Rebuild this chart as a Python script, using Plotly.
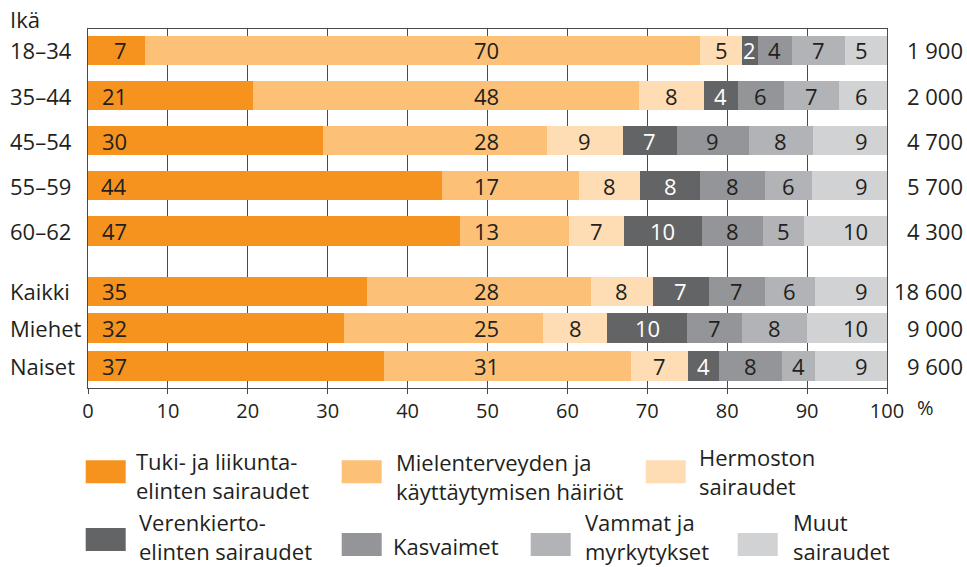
import plotly.graph_objects as go

# ---------------- data ----------------
categories = ["18–34", "35–44", "45–54", "55–59", "60–62", "Kaikki", "Miehet", "Naiset"]
totals = [1900, 2000, 4700, 5700, 4300, 18600, 9000, 9600]

series_names = [
    "Tuki- ja liikunta-<br>elinten sairaudet",
    "Mielenterveyden ja<br>käyttäytymisen häiriöt",
    "Hermoston<br>sairaudet",
    "Verenkierto-<br>elinten sairaudet",
    "Kasvaimet",
    "Vammat ja<br>myrkytykset",
    "Muut<br>sairaudet",
]

# bar shares (%)
tuki   = [7.1, 20.7, 29.4, 44.3, 46.6, 34.9, 32.0, 37.0]
mielen = [69.5, 48.2, 28.0, 17.1, 13.6, 28.0, 25.0, 31.0]
hermo  = [5.3, 8.2, 9.5, 7.7, 6.9, 7.8, 8.0, 7.1]
veren  = [1.9, 4.2, 6.8, 7.5, 9.7, 7.0, 10.0, 3.9]
kasv   = [4.3, 5.8, 9.0, 8.1, 7.7, 7.0, 6.9, 7.9]
vamm   = [6.6, 6.9, 8.0, 5.9, 5.1, 6.3, 8.1, 4.1]
muut   = [5.3, 6.0, 9.3, 9.4, 10.4, 9.0, 10.0, 9.0]

# printed labels (rounded %)
tuki_lbl   = [7, 21, 30, 44, 47, 35, 32, 37]
mielen_lbl = [70, 48, 28, 17, 13, 28, 25, 31]
hermo_lbl  = [5, 8, 9, 8, 7, 8, 8, 7]
veren_lbl  = [2, 4, 7, 8, 10, 7, 10, 4]
kasv_lbl   = [4, 6, 9, 8, 8, 7, 7, 8]
vamm_lbl   = [7, 7, 8, 6, 5, 6, 8, 4]
muut_lbl   = [5, 6, 9, 9, 10, 9, 10, 9]

series = [tuki, mielen, hermo, veren, kasv, vamm, muut]
labels = [tuki_lbl, mielen_lbl, hermo_lbl, veren_lbl, kasv_lbl, vamm_lbl, muut_lbl]

# ---------------- style ----------------
colors = ["#F6921E", "#FCC176", "#FEDDB4", "#636466", "#939598", "#B2B3B6", "#D1D2D4"]
label_colors = ["#231F20", "#231F20", "#231F20", "#FFFFFF", "#231F20", "#231F20", "#231F20"]
FONT = "Open Sans"
FS = 22
TXT = "#231F20"
GRID = "#4a4a4a"

W, H = 967, 567
L, R, T, B = 88.3, 887.3, 28.5, 388.5
row_pos = [0, 1, 2, 3, 4, 5.343, 6.162, 7.002]
y_range = [7.489, -0.476]


def px_x(px):
    return (px - L) / (R - L)


def px_y(py):
    return 1 - (py - T) / (B - T)


fig = go.Figure()
for name, vals, col in zip(series_names, series, colors):
    fig.add_trace(go.Bar(
        y=row_pos, x=vals, name=name.replace("<br>", " "), orientation="h",
        marker=dict(color=col, line=dict(width=0)),
        width=0.655, hoverinfo="x+name", showlegend=False,
    ))

ann = []
# bar labels
for i in range(len(categories)):
    start = 0.0
    for j, (vals, lbls) in enumerate(zip(series, labels)):
        v = vals[i]
        if j == 0:
            x, xa = 4.95, "right"
        elif j == 1:
            x, xa = 51.55, "right"
        elif j == 6:
            x, xa = 97.75, "right"
        else:
            x, xa = start + v / 2, "center"
        ann.append(dict(x=x, y=row_pos[i], xref="x", yref="y", text=str(lbls[i]),
                        showarrow=False, xanchor=xa, yanchor="middle", borderpad=0,
                        font=dict(family=FONT, size=FS, color=label_colors[j])))
        start += v

# category labels (left) and totals (right)
for i, c in enumerate(categories):
    ann.append(dict(x=px_x(9), y=row_pos[i], xref="paper", yref="y", text=c,
                    showarrow=False, xanchor="left", yanchor="middle", borderpad=0,
                    font=dict(family=FONT, size=FS, color=TXT)))
    tot = f"{totals[i]:,}".replace(",", " ")
    ann.append(dict(x=px_x(964), y=row_pos[i], xref="paper", yref="y", text=tot,
                    showarrow=False, xanchor="right", yanchor="middle", borderpad=0,
                    font=dict(family=FONT, size=FS, color=TXT)))

ann.append(dict(x=px_x(9), y=px_y(18.5), xref="paper", yref="paper", text="Ikä",
                showarrow=False, xanchor="left", yanchor="middle", borderpad=0,
                font=dict(family=FONT, size=FS, color=TXT)))
ann.append(dict(x=px_x(926), y=px_y(408), xref="paper", yref="paper", text="%",
                showarrow=False, xanchor="center", yanchor="middle", borderpad=0,
                font=dict(family=FONT, size=20, color=TXT)))

# manual legend: swatch (x0, x1, y0, y1) and text block (x, y centre)
legend_layout = [
    ((86, 126, 461, 484), (135, 476.7)),
    ((342, 382, 461, 484), (395, 477.5)),
    ((646, 686, 461, 484), (698, 472.5)),
    ((86, 126, 529, 552), (138, 537.0)),
    ((342, 382, 534, 557), (392, 547.0)),
    ((531, 571, 534, 557), (584, 537.0)),
    ((738, 778, 534, 557), (792, 537.0)),
]
shapes = []
for (box, (tx, ty)), name, col in zip(legend_layout, series_names, colors):
    x0, x1, y0, y1 = box
    shapes.append(dict(type="rect", xref="paper", yref="paper",
                       x0=px_x(x0), x1=px_x(x1), y0=px_y(y1), y1=px_y(y0),
                       fillcolor=col, line=dict(width=0), layer="above"))
    ann.append(dict(x=px_x(tx), y=px_y(ty), xref="paper", yref="paper", text=name,
                    showarrow=False, xanchor="left", yanchor="middle", align="left",
                    borderpad=0, font=dict(family=FONT, size=FS, color=TXT)))

fig.update_layout(
    width=W, height=H,
    margin=dict(l=L, r=W - R, t=T, b=H - B, pad=0),
    barmode="stack", bargap=0,
    plot_bgcolor="white", paper_bgcolor="white",
    annotations=ann, shapes=shapes,
    font=dict(family=FONT, size=20, color=TXT),
    xaxis=dict(range=[0, 100], dtick=10, tick0=0, showgrid=True, gridcolor=GRID, gridwidth=1,
               zeroline=False, showline=True, linecolor=GRID, linewidth=1.3, mirror=True,
               ticks="outside", ticklen=5, tickcolor=GRID, tickwidth=1.3,
               tickfont=dict(family=FONT, size=20, color=TXT), fixedrange=True),
    yaxis=dict(range=y_range, showticklabels=False, showgrid=False, zeroline=False,
               showline=True, linecolor=GRID, linewidth=1.3, mirror=True, ticks="",
               fixedrange=True),
)

fig.write_html("out.html", config={"displayModeBar": False},
               post_script="document.body.style.margin='0px';")
